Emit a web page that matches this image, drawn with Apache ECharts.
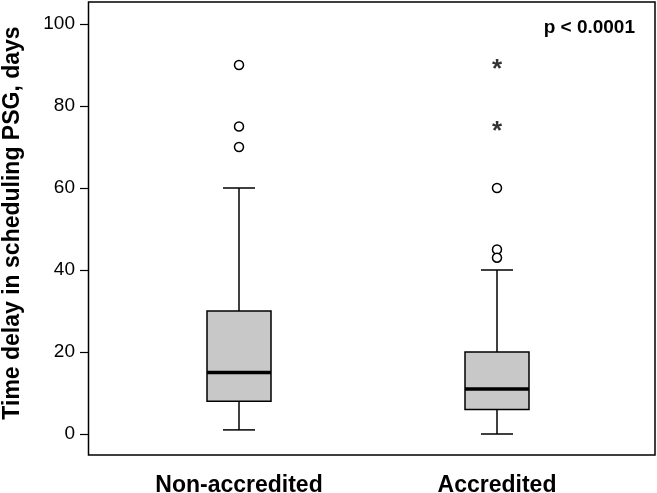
<!DOCTYPE html>
<html><head><meta charset="utf-8">
<script src="https://cdn.jsdelivr.net/npm/echarts@6/dist/echarts.min.js"></script>
<style>html,body{margin:0;padding:0;background:#fff}#c{width:657px;height:493px}</style>
</head><body><div id="c"></div>
<script>
var categories = ['Non-accredited', 'Accredited'];
// [min, Q1, median, Q3, max]
var boxStats = [
  [1, 8, 15, 30, 60],
  [0, 6, 11, 20, 40]
];
// circle outliers: [categoryIndex, value]
var circleOutliers = [[0, 90], [0, 75], [0, 70], [1, 60], [1, 45], [1, 43]];
// extreme outliers (asterisks)
var starOutliers = [[1, 90], [1, 75]];
var yTicks = [0, 20, 40, 60, 80, 100];
var pText = 'p < 0.0001';
var yTitle = 'Time delay in scheduling PSG, days';

var FONT = "'Liberation Sans Narrow','Arial Narrow','Liberation Sans',Arial,sans-serif";
var chart = echarts.init(document.getElementById('c'), null, {renderer: 'canvas'});

var boxData = boxStats.map(function (s, i) { return [i].concat(s); });

function renderBox(params, api) {
  var x = api.value(0);
  var pMin = api.coord([x, api.value(1)]);
  var pQ1 = api.coord([x, api.value(2)]);
  var pMed = api.coord([x, api.value(3)]);
  var pQ3 = api.coord([x, api.value(4)]);
  var pMax = api.coord([x, api.value(5)]);
  var cx = pMin[0];
  var hw = 32, cw = 16;
  var ls = {stroke: '#000', lineWidth: 1.5};
  return {
    type: 'group',
    children: [
      {type: 'line', shape: {x1: cx, y1: pMax[1], x2: cx, y2: pQ3[1]}, style: ls},
      {type: 'line', shape: {x1: cx, y1: pQ1[1], x2: cx, y2: pMin[1]}, style: ls},
      {type: 'line', shape: {x1: cx - cw, y1: pMax[1], x2: cx + cw, y2: pMax[1]}, style: ls},
      {type: 'line', shape: {x1: cx - cw, y1: pMin[1], x2: cx + cw, y2: pMin[1]}, style: ls},
      {type: 'rect', shape: {x: cx - hw, y: pQ3[1], width: hw * 2, height: pQ1[1] - pQ3[1]},
        style: {fill: '#c8c8c8', stroke: '#000', lineWidth: 1.5}},
      {type: 'line', shape: {x1: cx - hw, y1: pMed[1], x2: cx + hw, y2: pMed[1]},
        style: {stroke: '#000', lineWidth: 3.5}}
    ]
  };
}

var option = {
  backgroundColor: '#fff',
  animation: false,
  title: {
    text: pText, right: 17, top: 13,
    textStyle: {fontFamily: FONT, fontSize: 19, fontWeight: 'bold', color: '#000'}
  },
  grid: [
    {left: 88.5, right: 2, top: 2, bottom: 38, show: true, borderColor: '#000', borderWidth: 1.5,
      backgroundColor: 'transparent', outerBoundsMode: 'none', containLabel: false},
    {left: 88, right: 2, top: 24, bottom: 59, outerBoundsMode: 'none', containLabel: false},
    {left: 110, width: 516, top: 24, bottom: 59, outerBoundsMode: 'none', containLabel: false}
  ],
  xAxis: [
    {gridIndex: 0, type: 'value', show: false},
    {gridIndex: 1, type: 'category', data: categories, show: false},
    {gridIndex: 2, type: 'category', data: categories,
      axisLine: {show: false}, axisTick: {show: false}, splitLine: {show: false},
      axisLabel: {margin: 40, fontFamily: FONT, fontSize: 23, fontWeight: 'bold', color: '#000'}}
  ],
  yAxis: [
    {gridIndex: 0, type: 'value', show: false},
    {gridIndex: 1, type: 'value', min: 0, max: 100, interval: 20,
      name: yTitle, nameLocation: 'middle', nameGap: 64,
      nameTextStyle: {fontFamily: FONT, fontSize: 23, fontWeight: 'bold', color: '#000', padding: [0, 0, 0, 12]},
      axisLine: {show: false},
      axisTick: {show: true, length: 8, lineStyle: {color: '#000', width: 1.2}},
      axisLabel: {margin: 13, fontFamily: FONT, fontSize: 19, color: '#000',
        formatter: function (v) { return yTicks.indexOf(v) >= 0 ? String(v) : ''; }},
      splitLine: {show: false}},
    {gridIndex: 2, type: 'value', min: 0, max: 100, show: false}
  ],
  series: [
    {type: 'custom', xAxisIndex: 2, yAxisIndex: 2, data: boxData, renderItem: renderBox,
      encode: {x: 0, y: [1, 2, 3, 4, 5]}, clip: false, z: 2},
    {type: 'scatter', xAxisIndex: 2, yAxisIndex: 2, data: circleOutliers, symbol: 'circle', symbolSize: 9,
      itemStyle: {color: '#fff', borderColor: '#000', borderWidth: 1.5, opacity: 1}, z: 3},
    {type: 'scatter', xAxisIndex: 2, yAxisIndex: 2, data: starOutliers, symbolSize: 1,
      itemStyle: {color: 'rgba(0,0,0,0)'},
      label: {show: true, position: 'inside', formatter: '*', offset: [0, 5],
        fontFamily: FONT, fontSize: 26, fontWeight: 'bold', color: '#000'}, z: 3}
  ]
};
chart.setOption(option);
</script></body></html>
